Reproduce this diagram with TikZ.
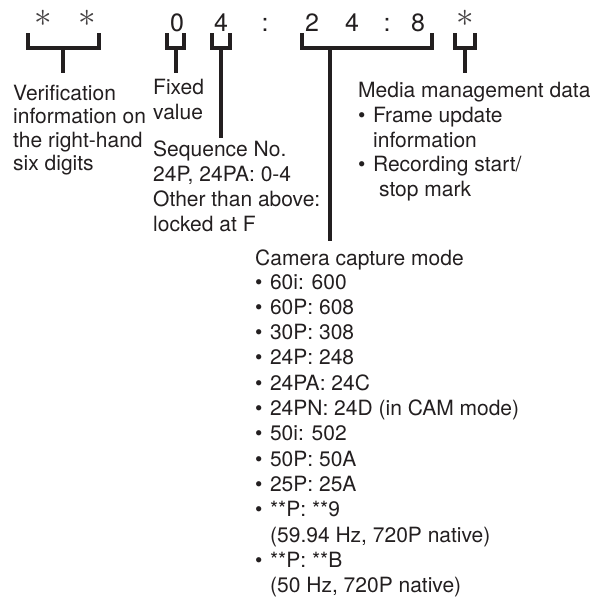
\documentclass[tikz,border=0pt]{standalone}
\usepackage{fontspec}
\setmainfont{TeX Gyre Heros}
\definecolor{ink}{RGB}{35,31,32}
\newcommand\itm{\textbullet\hspace{7.5pt}}
\tikzset{
  lbl/.style={anchor=base west, inner sep=0pt, text=ink, font=\fontsize{21}{25}\selectfont},
  digit/.style={anchor=base, inner sep=0pt, text=ink, font=\fontsize{25}{30}\selectfont},
  star/.style={inner sep=0pt, text=ink!85, scale=3.5},
  brace/.style={draw=ink, line width=3.1pt},
}
\begin{document}
\begin{tikzpicture}[x=1pt,y=-1pt]
\useasboundingbox (0,0) rectangle (603,603);

% the time code
\node[star] (s1) at (43,18) {$\ast$};
\node[star] (s2) at (87,18) {$\ast$};
\node[digit] (d1) at (177,31) {0};
\node[digit] (d2) at (221,31) {4};
\node[digit] (c1) at (265,31) {:};
\node[digit] (d3) at (312,31) {2};
\node[digit] (d4) at (352,31) {4};
\node[digit] (c2) at (387,31) {:};
\node[digit] (d5) at (418,31) {8};
\node[star] (s3) at (465,18) {$\ast$};

% brackets
\draw[brace] (28,33) |- (99,48) -- (99,33);
\draw[brace] (167,33) |- (184,48) -- (184,33);
\draw[brace] (212,33) |- (230,48) -- (230,33);
\draw[brace] (302,33) |- (432,48) -- (432,33);
\draw[brace] (455,33) |- (475,48) -- (475,33);

\coordinate (v1) at (63,48);  \coordinate (w1) at (63,73);
\coordinate (v2) at (176,48); \coordinate (w2) at (176,73);
\coordinate (v3) at (221,48); \coordinate (w3) at (221,138);
\coordinate (v4) at (330,48); \coordinate (w4) at (330,241);
\coordinate (v5) at (465,48); \coordinate (w5) at (465,73);
\draw[brace] (v1) -- (w1);
\draw[brace] (v2) -- (w2);
\draw[brace] (v3) -- (w3);
\draw[brace] (v4) -- (w4);
\draw[brace] (v5) -- (w5);

% verification
\node[lbl] (ver1) at (13,100) {Verification};
\node[lbl] (ver2) at (13,123.5) {information on};
\node[lbl] (ver3) at (13,147) {the right-hand};
\node[lbl] (ver4) at (13,170.5) {six digits};

% fixed value
\node[lbl] (fix1) at (153,94) {Fixed};
\node[lbl] (fix2) at (153,119) {value};

% sequence
\node[lbl] (seq1) at (153,156) {Sequence No.};
\node[lbl] (seq2) at (153,181) {24P, 24PA: 0-4};
\node[lbl] (seq3) at (153,206) {Other than above:};
\node[lbl] (seq4) at (153,231) {locked at F};

% media management
\node[lbl] (med1) at (358,97) {Media management data};
\node[lbl] (med2) at (358,122) {\itm Frame update};
\node[lbl] (med3) at (373,147) {information};
\node[lbl] (med4) at (358,171.5) {\itm Recording start/};
\node[lbl] (med5) at (379,196) {stop mark};

% camera capture mode
\node[lbl] (cam0) at (255,265) {Camera capture mode};
\node[lbl] (cam1) at (255,289) {\itm 60i: 600};
\node[lbl] (cam2) at (255,314.3) {\itm 60P: 608};
\node[lbl] (cam3) at (255,339.6) {\itm 30P: 308};
\node[lbl] (cam4) at (255,364.9) {\itm 24P: 248};
\node[lbl] (cam5) at (255,390.2) {\itm 24PA: 24C};
\node[lbl] (cam6) at (255,415.5) {\itm 24PN: 24D (in CAM mode)};
\node[lbl] (cam7) at (255,440.8) {\itm 50i: 502};
\node[lbl] (cam8) at (255,466.1) {\itm 50P: 50A};
\node[lbl] (cam9) at (255,491.4) {\itm 25P: 25A};
\node[lbl] (cam10) at (255,516.7) {\itm **P: **9};
\node[lbl] (cam11) at (270,542) {(59.94 Hz, 720P native)};
\node[lbl] (cam12) at (255,567.3) {\itm **P: **B};
\node[lbl] (cam13) at (270,592.6) {(50 Hz, 720P native)};
\end{tikzpicture}
\end{document}
